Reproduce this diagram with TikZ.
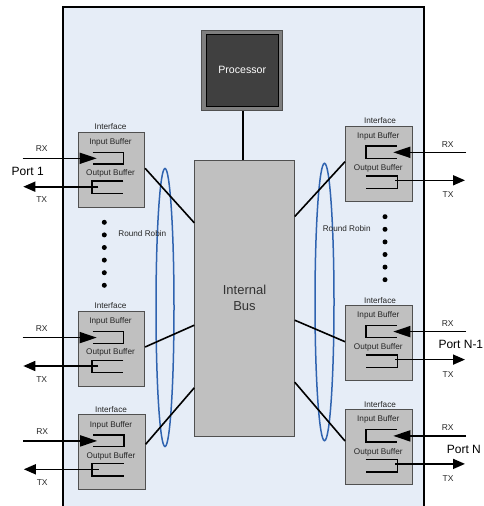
\documentclass[tikz,border=0pt]{standalone}
\usepackage{fontspec}
\setmainfont{Liberation Sans}
\usetikzlibrary{arrows.meta,calc}
\definecolor{framebg}{HTML}{E6EDF7}
\definecolor{boxgray}{HTML}{C0C0C0}
\definecolor{edgegray}{HTML}{505050}
\definecolor{rrblue}{HTML}{2F63B0}
\definecolor{procouter}{HTML}{7F7F7F}
\definecolor{procinner}{HTML}{404040}
\newcommand\leftiface[3]{%
  \begin{scope}[shift={(#2,#3)}]
    \node[ibox] (#1) at (0,0) {};
    \node[lbl] (#1t) at (33,-5) {Interface};
    \node[lbl] (#1i) at (33,10.6) {Input Buffer};
    \draw[bufline] (15.2,20.6) -- (45.8,20.6) -- (45.8,32.3) -- (15.2,32.3);
    \node[lbl] (#1o) at (33,41.6) {Output Buffer};
    \draw[bufline] (45.8,49.3) -- (14.2,49.3) -- (14.2,61.6) -- (45.8,61.6);
    \coordinate (#1rxs) at (-54.8,26.6);
    \coordinate (#1rxe) at (19.2,26.6);
    \coordinate (#1txs) at (20.8,55);
    \coordinate (#1txe) at (-54.2,55);
    \draw[rxarr] (#1rxs) -- (#1rxe);
    \draw[txarr] (#1txs) -- (#1txe);
    \node[rxlbl] (#1rx) at (-35.8,17.3) {RX};
    \node[rxlbl] (#1tx) at (-35.8,68.3) {TX};
  \end{scope}}
\newcommand\rightiface[3]{%
  \begin{scope}[shift={(#2,#3)}]
    \node[ibox] (#1) at (0,0) {};
    \node[lbl] (#1t) at (35,-4.7) {Interface};
    \node[lbl] (#1i) at (33.3,10.3) {Input Buffer};
    \draw[bufline] (51.7,20.3) -- (20.7,20.3) -- (20.7,32.6) -- (51.7,32.6);
    \node[lbl] (#1o) at (33.3,42.6) {Output Buffer};
    \draw[bufline] (20.7,50) -- (52.3,50) -- (52.3,62.6) -- (20.7,62.6);
    \coordinate (#1rxs) at (121,26.6);
    \coordinate (#1rxe) at (48.3,26.6);
    \coordinate (#1txs) at (50,54.6);
    \coordinate (#1txe) at (120,54.6);
    \draw[rxarr] (#1rxs) -- (#1rxe);
    \draw[txarr] (#1txs) -- (#1txe);
    \node[rxlbl] (#1rx) at (102.7,18.6) {RX};
    \node[rxlbl] (#1tx) at (103,69.3) {TX};
  \end{scope}}
\begin{document}
\begin{tikzpicture}[x=1pt,y=-1pt,
  ibox/.style={draw=edgegray, line width=0.9pt, fill=boxgray, minimum width=66.7pt, minimum height=75pt, inner sep=0pt, anchor=north west},
  lbl/.style={font=\fontsize{8.2}{9}\selectfont, inner sep=0pt, text=black!85},
  rxlbl/.style={font=\fontsize{8.5}{9}\selectfont, inner sep=0pt, text=black!85},
  portlbl/.style={font=\fontsize{12}{13}\selectfont, inner sep=0pt},
  bufline/.style={line width=1.6pt, line join=miter},
  rxarr/.style={line width=1.6pt, -{Triangle[length=17pt,width=11pt]}},
  txarr/.style={line width=1.6pt, -{Triangle[length=12pt,width=10pt]}},
  conn/.style={line width=1.6pt},
  rr/.style={draw=rrblue, line width=1.5pt},
  dotc/.style={circle, fill=black, inner sep=0pt, minimum size=5pt},
]
\useasboundingbox (0,0) rectangle (484,506);
\clip (0,0) rectangle (484,506);
% frame
\draw[line width=2pt, fill=framebg] (63,7) rectangle (424,520);
% processor
\node[draw=edgegray, line width=0.8pt, fill=procouter, minimum width=81pt, minimum height=80.7pt, inner sep=0pt] (Pout) at (242.2,70.3) {};
\node[draw=black, line width=0.8pt, fill=procinner, minimum width=72.3pt, minimum height=71.7pt, inner sep=0pt, text=white, font=\fontsize{10.6}{12}\selectfont] (P) at (242.2,70.3) {Processor};
% bus
\node[draw=edgegray, line width=0.9pt, fill=boxgray, minimum width=99.6pt, minimum height=276.7pt, inner sep=0pt, align=center, text=black!80, font=\fontsize{13}{16}\selectfont] (B) at (244.5,298.3) {Internal\\Bus};
\draw[conn] (Pout.south -| 243,0) -- (B.north -| 243,0);
% ellipses
\draw[rr] (165,307.5) ellipse [x radius=9pt, y radius=139pt];
\draw[rr] (324.5,302) ellipse [x radius=9.5pt, y radius=138.7pt];
% interfaces
\leftiface{L1}{77.5}{131.7}
\leftiface{L2}{77.5}{311}
\leftiface{L3}{78}{414.3}
\rightiface{R1}{345}{125.7}
\rightiface{R2}{345}{305}
\rightiface{R3}{345}{409.3}
% port labels
\node[portlbl] (p1) at (27.7,171) {Port 1};
\node[portlbl, anchor=west] (pn1) at (438.3,344) {Port N-1};
\node[portlbl, anchor=west] (pn) at (446.7,449.3) {Port N};
% connectors
\draw[conn] ($(L1.north east)+(0,36.6)$) -- ($(B.north west)+(0,63.3)$);
\draw[conn] ($(L2.north east)+(0,36)$) -- ($(B.north west)+(0,165.7)$);
\draw[conn] ($(L3.north east)+(0,30)$) -- ($(B.north west)+(0,228.3)$);
\draw[conn] ($(R1.north west)+(0,36)$) -- ($(B.north east)+(0,57)$);
\draw[conn] ($(R2.north west)+(0,36.7)$) -- ($(B.north east)+(0,160.7)$);
\draw[conn] ($(R3.north west)+(0,31.7)$) -- ($(B.north east)+(0,222.7)$);
% round robin
\node[lbl] (rrl) at (142.3,233.3) {Round Robin};
\node[lbl] (rrr) at (346.7,229) {Round Robin};
% dots
\foreach \k in {0,...,5} {
  \node[dotc] (dl\k) at (104.3,222.3+12.6*\k) {};
  \node[dotc] (dr\k) at (385,216.7+12.6*\k) {};
}
\end{tikzpicture}
\end{document}
